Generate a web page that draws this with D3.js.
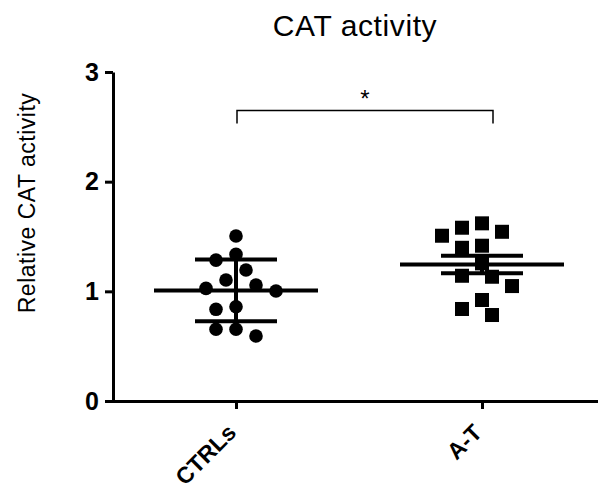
<!DOCTYPE html>
<meta charset="utf-8">
<style>
body { margin: 0; background: #fff; }
svg text { font-family: Arial, "Liberation Sans", sans-serif; fill: #000; }
.axis path, .axis line { stroke: #000; stroke-width: 3px; }
.axis text { font-size: 25px; font-weight: bold; }
.x.axis text { font-size: 23px; }
</style>
<body></body>
<script src="https://cdn.jsdelivr.net/npm/d3@7"></script>
<script>

// values
var groups = ["CTRLs", "A-T"];
var ctrlValues = [1.504, 1.337, 1.285, 1.194, 1.103, 1.057, 1.027, 1.003, 0.860, 0.836, 0.654, 0.654, 0.593];
var atValues = [1.620, 1.580, 1.543, 1.507, 1.416, 1.397, 1.255, 1.142, 1.133, 1.048, 0.921, 0.839, 0.784];
var errorKind = ["SD", "SEM"];   // what the error bars show in each group
var yTicks = [0, 1, 2, 3];
var sigLabel = "*";

var width = 600, height = 491;

var svg = d3.select("body").append("svg")
    .attr("width", width)
    .attr("height", height);

var x = d3.scalePoint().domain(groups).range([113, 605]).padding(0.5);
var y = d3.scaleLinear().domain([0, 3]).range([401, 72]);

// title
svg.append("text")
    .attr("x", 355)
    .attr("y", 36)
    .attr("text-anchor", "middle")
    .style("font-size", "30px")
    .style("letter-spacing", "0.6px")
    .text("CAT activity");

// y label
svg.append("text")
    .attr("transform", "translate(35,203) rotate(-90)")
    .attr("text-anchor", "middle")
    .style("font-size", "23px")
    .style("letter-spacing", "0.5px")
    .text("Relative CAT activity");

// axes
svg.append("g")
    .attr("class", "y axis")
    .attr("transform", "translate(113,0)")
    .call(d3.axisLeft(y).tickValues(yTicks).tickFormat(d3.format("d")).tickSize(8).tickSizeOuter(0).tickPadding(6));

var xAxis = svg.append("g")
    .attr("class", "x axis")
    .attr("transform", "translate(0,401)")
    .call(d3.axisBottom(x).tickSize(8).tickSizeOuter(0));
xAxis.select(".domain").attr("d", "M111.5,0.5H598");
xAxis.selectAll(".tick text")
    .attr("text-anchor", "end")
    .attr("y", 0)
    .attr("dy", null)
    .attr("transform", "translate(1,33) rotate(-45)");

// simple beeswarm: push points sideways in steps until they stop overlapping too much
function swarm(vals, minDist, step) {
    var placed = [];
    var off = new Array(vals.length);
    var order = d3.range(vals.length).sort(function(a, b) { return vals[b] - vals[a]; });
    order.forEach(function(i) {
        var py = y(vals[i]);
        for (var k = 0; k < 50; k++) {
            var c = k === 0 ? 0 : (k % 2 ? -Math.ceil(k / 2) : Math.ceil(k / 2)) * step;
            var ok = placed.every(function(p) { return Math.hypot(p.x - c, p.y - py) >= minDist; });
            if (ok) { off[i] = c; placed.push({x: c, y: py}); break; }
        }
    });
    return off;
}

var series = [ctrlValues, atValues];

series.forEach(function(vals, gi) {
    var cx = x(groups[gi]);
    var offs = swarm(vals, 16, 10);
    var pts = vals.map(function(v, i) { return {v: v, dx: offs[i]}; });

    if (gi === 0) {
        svg.selectAll(".dot" + gi).data(pts).enter().append("circle")
            .attr("class", "dot" + gi)
            .attr("cx", function(d) { return cx + d.dx; })
            .attr("cy", function(d) { return y(d.v); })
            .attr("r", 6.8)
            .attr("fill", "#000");
    } else {
        svg.selectAll(".dot" + gi).data(pts).enter().append("rect")
            .attr("class", "dot" + gi)
            .attr("x", function(d) { return cx + d.dx - 7; })
            .attr("y", function(d) { return y(d.v) - 7; })
            .attr("width", 14)
            .attr("height", 14)
            .attr("fill", "#000");
    }

    var m = d3.mean(vals);
    var e = d3.deviation(vals);
    if (errorKind[gi] === "SEM") e = e / Math.sqrt(vals.length);

    var g = svg.append("g").attr("stroke", "#000").attr("stroke-width", 4);
    g.append("line").attr("x1", cx - 82).attr("x2", cx + 82).attr("y1", y(m)).attr("y2", y(m));
    g.append("line").attr("x1", cx).attr("x2", cx).attr("y1", y(m - e)).attr("y2", y(m + e));
    g.append("line").attr("x1", cx - 41).attr("x2", cx + 41).attr("y1", y(m + e)).attr("y2", y(m + e));
    g.append("line").attr("x1", cx - 41).attr("x2", cx + 41).attr("y1", y(m - e)).attr("y2", y(m - e));
});

// significance bracket
var bx1 = x(groups[0]) + 1, bx2 = x(groups[1]) + 11;
svg.append("path")
    .attr("d", "M" + bx1 + "," + y(2.53) + "V" + y(2.65) + "H" + bx2 + "V" + y(2.53))
    .attr("fill", "none")
    .attr("stroke", "#000")
    .attr("stroke-width", 1.5);
svg.append("text")
    .attr("x", (bx1 + bx2) / 2)
    .attr("y", y(2.65) - 3)
    .attr("text-anchor", "middle")
    .style("font-size", "24px")
    .text(sigLabel);

</script>
